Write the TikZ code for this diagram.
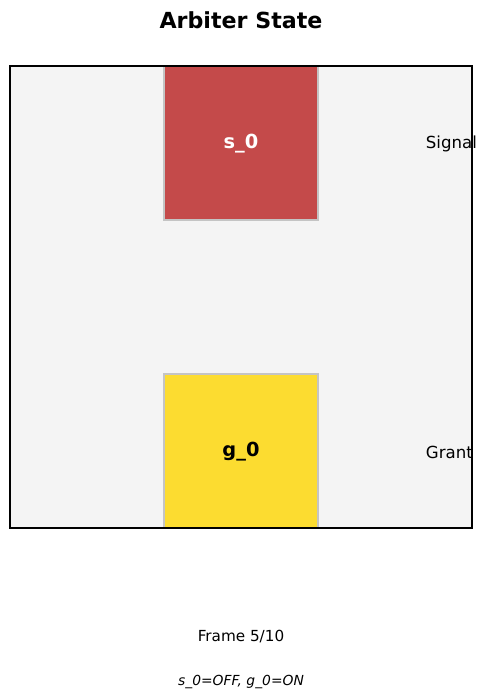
\documentclass[tikz,border=0pt]{standalone}
\usepackage{fontspec}
\setmainfont{DejaVu Sans}
\usetikzlibrary{positioning}
\definecolor{panelbg}{HTML}{F4F4F4}
\definecolor{sigred}{HTML}{C44A4A}
\definecolor{grantyellow}{HTML}{FCDC30}
\definecolor{edgegray}{HTML}{C4C4C4}

\begin{document}
\begin{tikzpicture}[x=0.01in,y=-0.01in,
    state node/.style={rectangle,draw=edgegray,line width=2pt,minimum width=1.54in,minimum height=1.54in},
    state text/.style={font=\fontsize{14}{16}\selectfont\bfseries},
    side label/.style={anchor=west,font=\fontsize{12}{14}\selectfont}]
   \useasboundingbox (0,0) rectangle (486,699);
   % panel
   \fill[panelbg] (10,66) rectangle (472,528);
   \begin{scope}
     \clip (10,66) rectangle (472,528);
     \node[state node,fill=sigred] (s0) at (241,143) {};
     \node[state node,fill=grantyellow] (g0) at (241,451) {};
   \end{scope}
   \node[state text,text=white] (s0txt) at (241,144) {s\_0};
   \node[state text] (g0txt) at (241,452) {g\_0};
   \draw[line width=0.8pt] (10,66) rectangle (472,528);
   % labels
   \node[font=\fontsize{16}{19}\selectfont\bfseries] (title) at (241,20) {Arbiter State};
   \node[side label] (sig) at (421,144) {Signal};
   \node[side label] (gnt) at (421,452) {Grant};
   \node[font=\fontsize{11}{13}\selectfont] (frame) at (241,637) {Frame 5/10};
   \node[font=\fontsize{10}{12}\selectfont\itshape] (status) at (241,682) {s\_0=OFF, g\_0=ON};
\end{tikzpicture}
\end{document}
